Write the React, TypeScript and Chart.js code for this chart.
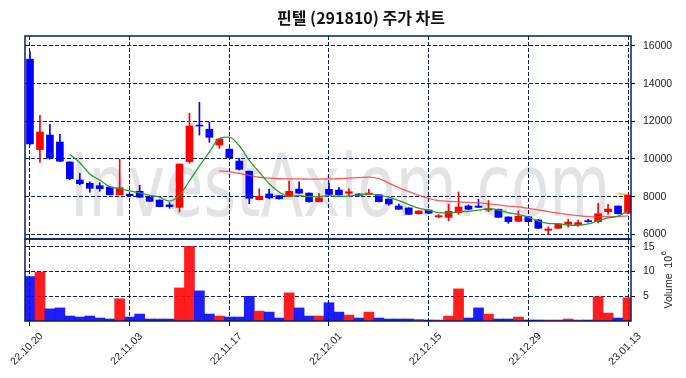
import React, { useEffect, useRef } from 'react';
import { Chart, registerables } from 'chart.js';

Chart.register(...registerables);

const TITLE = '핀텔 (291810) 주가 차트';
const WATERMARK = 'InvestAxiom.com';

const dates = [
  '22.10.20', '22.10.21', '22.10.24', '22.10.25', '22.10.26', '22.10.27', '22.10.28', '22.10.31', '22.11.01', '22.11.02',
  '22.11.03', '22.11.04', '22.11.07', '22.11.08', '22.11.09', '22.11.10', '22.11.11', '22.11.14', '22.11.15', '22.11.16',
  '22.11.17', '22.11.18', '22.11.21', '22.11.22', '22.11.23', '22.11.24', '22.11.25', '22.11.28', '22.11.29', '22.11.30',
  '22.12.01', '22.12.02', '22.12.05', '22.12.06', '22.12.07', '22.12.08', '22.12.09', '22.12.12', '22.12.13', '22.12.14',
  '22.12.15', '22.12.16', '22.12.19', '22.12.20', '22.12.21', '22.12.22', '22.12.23', '22.12.26', '22.12.27', '22.12.28',
  '22.12.29', '23.01.02', '23.01.03', '23.01.04', '23.01.05', '23.01.06', '23.01.09', '23.01.10', '23.01.11', '23.01.12',
  '23.01.13',
];

const opens = [
  15300, 10500, 11270, 10900, 9840, 8880, 8710, 8580, 8510, 8100,
  8130, 8280, 7960, 7820, 7560, 7430, 9860, 11800, 11580, 10740,
  10520, 9890, 9350, 7840, 8140, 8050, 8000, 8400, 8190, 7730,
  8390, 8350, 8180, 8140, 8130, 8100, 7870, 7500, 7400, 7090,
  7290, 6920, 6900, 7150, 7500, 7500, 7290, 7330, 6920, 6690,
  6930, 6760, 6210, 6320, 6530, 6510, 6720, 6670, 7200, 7500,
  7120,
];
const highs = [
  15700, 12320, 11840, 11310, 9850, 9240, 8790, 8740, 8520, 10000,
  8140, 8600, 8040, 7830, 7680, 9740, 12430, 13010, 11950, 11070,
  10550, 10030, 9360, 8420, 8390, 8060, 8830, 8780, 8200, 8160,
  8710, 8500, 8420, 8160, 8390, 8110, 7880, 7610, 7410, 7250,
  7300, 7050, 7590, 8250, 7560, 7860, 7790, 7340, 6930, 7250,
  6950, 6800, 6400, 6560, 6800, 6760, 6790, 7650, 7590, 7510,
  8120,
];
const lows = [
  10750, 9820, 9990, 9850, 8900, 8630, 8230, 8280, 8090, 8100,
  8040, 7950, 7740, 7460, 7380, 7180, 9770, 11270, 10880, 10560,
  10040, 9420, 7620, 7820, 7880, 7860, 7980, 8170, 7700, 7720,
  8100, 8080, 8050, 8030, 8100, 7720, 7540, 7320, 7050, 7080,
  7100, 6880, 6720, 7060, 7300, 7420, 7200, 6890, 6580, 6660,
  6650, 6300, 6020, 6310, 6390, 6420, 6650, 6610, 7060, 7080,
  7100,
];
const closes = [
  10800, 11430, 10040, 9880, 8950, 8690, 8440, 8420, 8100, 8470,
  8050, 7970, 7750, 7470, 7470, 9730, 11750, 11750, 11150, 11060,
  10070, 9450, 7910, 8020, 7940, 7890, 8280, 8180, 7730, 7930,
  8120, 8090, 8260, 8070, 8190, 7730, 7610, 7330, 7060, 7240,
  7120, 6990, 7220, 7450, 7330, 7430, 7360, 6900, 6670, 6960,
  6670, 6320, 6280, 6550, 6650, 6620, 6670, 7090, 7340, 7090,
  8090,
];

// Moving averages (null where not drawn)
const ma5 = [
  null, null, null, null, 10240, 9800, 9200, 8880, 8520, 8420,
  8300, 8200, 8070, 7970, 7760, 8080, 8830, 9630, 10370, 11090,
  11160, 10700, 9930, 9300, 8680, 8240, 8010, 8060, 8000, 8000,
  8050, 8010, 8030, 8090, 8150, 8070, 7970, 7790, 7580, 7390,
  7270, 7150, 7130, 7200, 7220, 7280, 7360, 7290, 7140, 7060,
  6910, 6700, 6580, 6560, 6490, 6480, 6550, 6720, 6870, 6960,
  7260,
];
const ma20 = [
  null, null, null, null, null, null, null, null, null, null,
  null, null, null, null, null, null, null, null, null, 9370,
  9330, 9230, 9130, 9030, 8980, 8950, 8940, 8940, 8930, 8930,
  8940, 8950, 8980, 9010, 9040, 8960, 8720, 8480, 8270, 8070,
  7910, 7790, 7750, 7720, 7690, 7670, 7620, 7560, 7500, 7460,
  7380, 7300, 7200, 7120, 7040, 6990, 6940, 6930, 6940, 6940,
  6980,
];
const ma60 = [
  null, null, null, null, null, null, null, null, null, null,
  null, null, null, null, null, null, null, null, null, null,
  null, null, null, null, null, null, null, null, null, null,
  null, null, null, null, null, null, null, null, null, null,
  null, null, null, null, null, null, null, null, null, null,
  null, null, null, null, null, null, null, null, null, 8150,
  8120,
];

// Volume in millions of shares
const volumes = [
  9.0, 9.9, 2.45, 2.65, 1.0, 0.8, 1.0, 0.6, 0.4, 4.5,
  0.8, 1.4, 0.4, 0.4, 0.4, 6.7, 15.1, 6.1, 1.4, 1.0,
  0.8, 0.8, 5.0, 2.0, 1.8, 0.6, 5.7, 2.65, 1.0, 1.0,
  3.7, 1.8, 1.2, 0.6, 1.8, 0.6, 0.4, 0.4, 0.4, 0.3,
  0.2, 0.2, 1.0, 6.5, 0.6, 2.65, 1.4, 0.4, 0.4, 0.8,
  0.2, 0.2, 0.2, 0.2, 0.4, 0.2, 0.2, 4.9, 1.6, 0.6,
  4.7,
];

const xTickIdx = [0, 10, 20, 30, 40, 50, 60];
const priceTicks = [6000, 8000, 10000, 12000, 14000, 16000];
const volTicks = [5, 10, 15];

const NAVY = '#0a1f5e';
const RED = '#ff0000';
const BLUE = '#0000ff';
const FONT = '"Liberation Sans", Arial, sans-serif';

export default function App() {
  const ref = useRef<HTMLCanvasElement>(null);

  useEffect(() => {
    document.body.style.margin = '0';
    const canvas = ref.current;
    if (!canvas) return;
    const idx = dates.map((_, i) => i);
    const up = idx.map((i) => closes[i] >= opens[i]);
    const candleColor = up.map((u) => (u ? RED : BLUE));
    const volColor = up.map((u) => (u ? 'rgba(255,10,10,0.92)' : 'rgba(10,10,255,0.92)'));

    const decor = {
      id: 'decor',
      beforeDraw(chart: any) {
        const ctx = chart.ctx;
        ctx.save();
        ctx.fillStyle = '#ffffff';
        ctx.fillRect(0, 0, chart.width, chart.height);
        ctx.font = '88px "DejaVu Sans", sans-serif';
        const w = ctx.measureText(WATERMARK).width;
        ctx.translate(70, 216);
        ctx.scale(540 / w, 1);
        ctx.fillStyle = '#e3e3e6';
        ctx.textBaseline = 'alphabetic';
        ctx.textAlign = 'left';
        ctx.fillText(WATERMARK, 0, 0);
        ctx.restore();
      },
      afterDraw(chart: any) {
        const ctx = chart.ctx;
        const xs = chart.scales.x;
        const yp = chart.scales.yp;
        const yv = chart.scales.yv;
        const left = chart.chartArea.left;
        const right = chart.chartArea.right;
        ctx.save();
        // panel frames
        ctx.strokeStyle = NAVY;
        ctx.lineWidth = 1.5;
        ctx.strokeRect(left, yp.top, right - left, yp.bottom - yp.top);
        ctx.strokeRect(left, yv.top, right - left, yv.bottom - yv.top);
        // title
        ctx.fillStyle = '#111';
        ctx.font = 'bold 16px "Noto Sans CJK KR", sans-serif';
        ctx.textAlign = 'center';
        ctx.textBaseline = 'middle';
        ctx.fillText(TITLE, 361, 18);
        // x tick labels
        ctx.font = '10.5px ' + FONT;
        ctx.fillStyle = '#222';
        xTickIdx.forEach((v) => {
          const px = xs.getPixelForValue(v);
          ctx.save();
          ctx.translate(px - 3, 349);
          ctx.rotate(-Math.PI / 4);
          ctx.textAlign = 'center';
          ctx.textBaseline = 'middle';
          ctx.fillText(dates[v], 0, 0);
          ctx.restore();
        });
        // volume axis label
        const cy = (yv.top + yv.bottom) / 2;
        ctx.save();
        ctx.translate(669, cy);
        ctx.rotate(-Math.PI / 2);
        ctx.font = '10.5px ' + FONT;
        const main = 'Volume  10';
        const mw = ctx.measureText(main).width;
        ctx.font = '8px ' + FONT;
        const sw = ctx.measureText('6').width;
        const start = -(mw + sw) / 2;
        ctx.textAlign = 'left';
        ctx.textBaseline = 'middle';
        ctx.font = '10.5px ' + FONT;
        ctx.fillText(main, start, 0);
        ctx.font = '8px ' + FONT;
        ctx.fillText('6', start + mw + 0.5, -5);
        ctx.restore();
        ctx.restore();
      },
    };

    const gridCommon = {
      color: NAVY,
      lineWidth: 1,
      drawTicks: true,
      tickColor: '#000',
      tickBorderDash: [],
      tickWidth: 1,
      offset: false,
    };

    const chart = new Chart(canvas, {
      type: 'bar',
      data: {
        datasets: [
          {
            type: 'line',
            label: 'MA5',
            data: idx.map((i) => ({ x: i, y: ma5[i] })),
            yAxisID: 'yp',
            borderColor: '#2f9a2f',
            borderWidth: 1.3,
            pointRadius: 0,
            cubicInterpolationMode: 'monotone',
            order: 1,
          },
          {
            type: 'line',
            label: 'MA20',
            data: idx.map((i) => ({ x: i, y: ma20[i] })),
            yAxisID: 'yp',
            borderColor: 'rgba(255,60,60,0.85)',
            borderWidth: 1.3,
            pointRadius: 0,
            cubicInterpolationMode: 'monotone',
            order: 1,
          },
          {
            type: 'line',
            label: 'MA60',
            data: idx.map((i) => ({ x: i, y: ma60[i] })),
            yAxisID: 'yp',
            borderColor: '#ffa500',
            borderWidth: 1.3,
            pointRadius: 0,
            order: 1,
          },
          {
            type: 'bar',
            label: 'body',
            data: idx.map((i) => ({ x: i, y: [opens[i], closes[i]] })),
            yAxisID: 'yp',
            backgroundColor: candleColor,
            borderWidth: 0,
            barThickness: 7,
            minBarLength: 1,
            grouped: false,
            order: 2,
          },
          {
            type: 'bar',
            label: 'wick',
            data: idx.map((i) => ({ x: i, y: [lows[i], highs[i]] })),
            yAxisID: 'yp',
            backgroundColor: candleColor,
            borderWidth: 0,
            barThickness: 1,
            grouped: false,
            order: 3,
          },
          {
            type: 'bar',
            label: 'Volume',
            data: idx.map((i) => ({ x: i, y: volumes[i] })),
            yAxisID: 'yv',
            backgroundColor: volColor,
            borderWidth: 0,
            barThickness: 10,
            grouped: false,
            order: 4,
          },
        ] as any,
      },
      options: {
        responsive: false,
        animation: false,
        devicePixelRatio: 1,
        layout: { padding: { left: 25, top: 36, right: 0, bottom: 0 } },
        plugins: { legend: { display: false }, tooltip: { enabled: false }, title: { display: false } },
        scales: {
          x: {
            type: 'linear',
            position: 'bottom',
            offset: false,
            min: -0.5,
            max: 60.3,
            afterBuildTicks: (s: any) => {
              s.ticks = xTickIdx.map((v) => ({ value: v }));
            },
            ticks: { display: false },
            grid: { ...gridCommon, tickLength: 5 },
            border: { display: false, dash: [4, 2] },
            afterFit: (s: any) => {
              s.height = 57;
            },
          },
          yp: {
            type: 'linear',
            position: 'right',
            stack: 'panels',
            stackWeight: 203,
            min: 5750,
            max: 16530,
            afterBuildTicks: (s: any) => {
              s.ticks = priceTicks.map((v) => ({ value: v }));
            },
            ticks: {
              color: '#222',
              font: { family: FONT, size: 10.5 },
              padding: 8,
              callback: (v: any) => String(v),
            },
            grid: { ...gridCommon, tickLength: 4 },
            border: { display: false, dash: [4, 2] },
            afterFit: (s: any) => {
              s.width = 55;
            },
          },
          yv: {
            type: 'linear',
            position: 'right',
            stack: 'panels',
            stackWeight: 82,
            min: 0,
            max: 16.6,
            afterBuildTicks: (s: any) => {
              s.ticks = volTicks.map((v) => ({ value: v }));
            },
            ticks: {
              color: '#222',
              font: { family: FONT, size: 10.5 },
              padding: 8,
              callback: (v: any) => String(v),
            },
            grid: { ...gridCommon, tickLength: 4 },
            border: { display: false, dash: [4, 2] },
            afterFit: (s: any) => {
              s.width = 55;
            },
          },
        },
      } as any,
      plugins: [decor],
    });

    return () => {
      chart.destroy();
    };
  }, []);

  return (
    <div style={{ position: 'fixed', left: 0, top: 0, width: 686, height: 378 }}>
      <canvas ref={ref} width={686} height={378} style={{ width: 686, height: 378, display: 'block' }} />
    </div>
  );
}
